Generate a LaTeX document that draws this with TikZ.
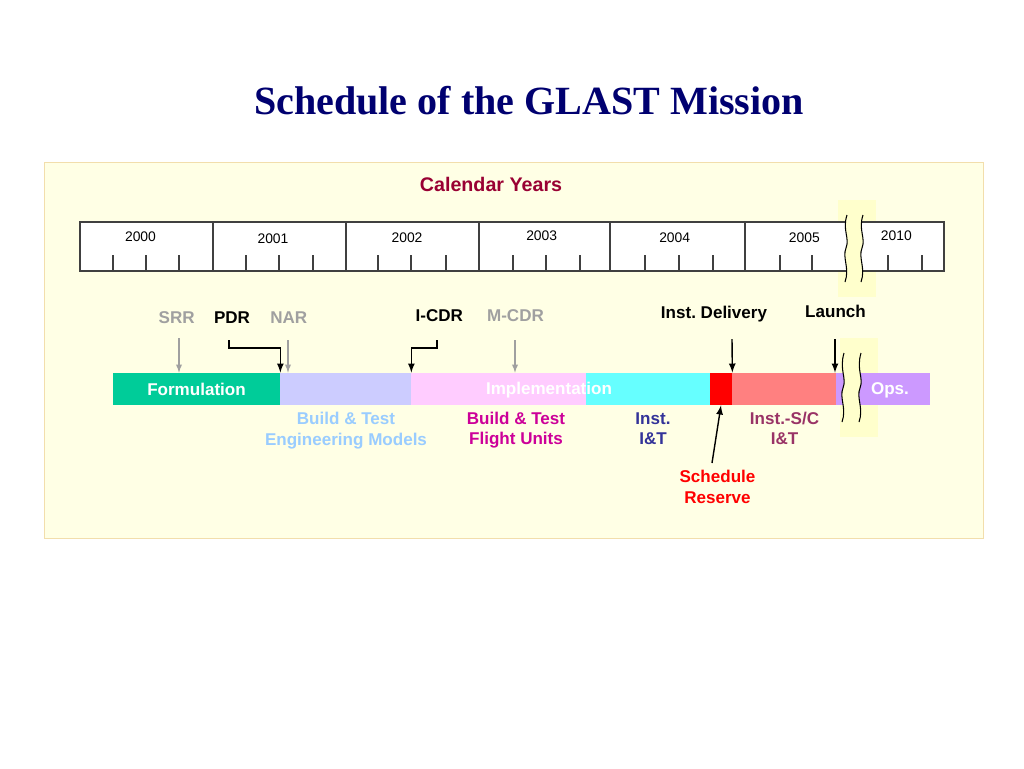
\documentclass[tikz,border=0pt]{standalone}
\usepackage{fontspec}
\setmainfont{Liberation Sans}
\newfontfamily\titlefont{Liberation Serif}
\usetikzlibrary{arrows}

\definecolor{panel}{RGB}{255,255,229}
\definecolor{panelline}{RGB}{242,222,172}
\definecolor{glow}{RGB}{255,255,204}
\definecolor{boxline}{RGB}{64,64,64}
\definecolor{titleblue}{RGB}{0,0,112}
\definecolor{calred}{RGB}{153,0,51}
\definecolor{cform}{RGB}{0,204,153}
\definecolor{cbem}{RGB}{204,204,255}
\definecolor{cimpl}{RGB}{255,204,255}
\definecolor{cinst}{RGB}{102,255,255}
\definecolor{cresv}{RGB}{255,0,0}
\definecolor{cscit}{RGB}{255,128,128}
\definecolor{cops}{RGB}{204,153,255}
\definecolor{cgray}{RGB}{160,160,160}
\definecolor{cbemtxt}{RGB}{153,204,255}
\definecolor{cflight}{RGB}{204,0,153}
\definecolor{cinsttxt}{RGB}{51,51,153}
\definecolor{cscittxt}{RGB}{153,51,102}

\begin{document}
\begin{tikzpicture}[x=0.02cm,y=-0.02cm,
    lbl/.style={font=\fontsize{9.7}{11.6}\selectfont\bfseries,inner sep=0pt,align=center},
    yr/.style={font=\fontsize{7.9}{9.5}\selectfont,inner sep=0pt},
    seg/.style={lbl,text=white,minimum height=32*0.02cm},
    garr/.style={-latex,draw=cgray,line width=0.6pt},
    barr/.style={-latex,line width=0.8pt}]
        \useasboundingbox[fill=white] (0,0) rectangle (1024,768);

        \node[font=\titlefont\fontsize{22.8}{26}\selectfont\bfseries,text=titleblue,inner sep=0pt] (title) at (529,100.5) {Schedule of the GLAST Mission};

        \draw[draw=panelline,fill=panel] (44,162) rectangle (983,538);
        \node[font=\fontsize{11.2}{13}\selectfont\bfseries,text=calred,inner sep=0pt] (cal) at (491,184.5) {Calendar Years};

        % year scale
        \fill[glow] (838,200) rectangle (876,297);
        \node[draw=boxline,fill=white,line width=0.6pt,inner sep=0pt,minimum width=864*0.02cm,minimum height=49*0.02cm] (years) at (512,246.5) {};
        \foreach \x in {213,346,479,610,745}
            \draw[boxline,line width=0.6pt] (\x,222) -- (\x,271);
        \foreach \x in {113,146,179,246,279,313,378,411,446,513,546,580,645,679,713,780,812,888,922}
            \draw[boxline,line width=0.6pt] (\x,255) -- (\x,271);
        \foreach \yr/\x/\y in {2000/140.5/236.7,2001/273/238.5,2002/407/237.7,2003/541.7/236,2004/674.7/238,2005/804.3/238,2010/896.3/235.5}
            \node[yr] (y\yr) at (\x,\y) {\yr};
        \fill[glow] (847,215) .. controls (842,230) and (850,238) .. (846,248) .. controls (842,258) and (850,268) .. (845,282)
            -- (861,282) .. controls (866,268) and (858,258) .. (862,248) .. controls (866,238) and (858,230) .. (863,215) -- cycle;
        \foreach \dx in {0,16}
            \draw[shift={(\dx,0)},line width=0.6pt] (847,215) .. controls (842,230) and (850,238) .. (846,248) .. controls (842,258) and (850,268) .. (845,282);

        % phases
        \fill[glow] (840,338) rectangle (878,437);
        \node[seg,fill=cform,minimum width=167*0.02cm] (form) at (196.5,389) {Formulation};
        \node[seg,fill=cbem,minimum width=131*0.02cm] (bem) at (345.5,389) {};
        \node[seg,fill=cimpl,minimum width=175*0.02cm] (impl) at (498.5,389) {};
        \node[seg,fill=cinst,minimum width=124*0.02cm] (inst) at (648,389) {};
        \node[seg,fill=cresv,minimum width=22*0.02cm] (resv) at (721,389) {};
        \node[seg,fill=cscit,minimum width=104*0.02cm] (scit) at (784,389) {};
        \node[seg,fill=cops,minimum width=94*0.02cm] (ops) at (883,389) {};
        \node[lbl,text=white] (impltxt) at (549,390) {Implementation};
        \node[lbl,text=white] (opstxt) at (890,390.5) {Ops.};
        \fill[glow] (844,353) .. controls (839,370) and (847,378) .. (843,388) .. controls (839,398) and (847,408) .. (842,422)
            -- (859,422) .. controls (864,408) and (856,398) .. (860,388) .. controls (864,378) and (856,370) .. (861,353) -- cycle;
        \foreach \dx in {0,17}
            \draw[shift={(\dx,0)},line width=0.6pt] (844,353) .. controls (839,370) and (847,378) .. (843,388) .. controls (839,398) and (847,408) .. (842,422);

        % milestones
        \node[lbl,text=cgray] (srr) at (176.7,317.5) {SRR};
        \node[lbl] (pdr) at (232,317.5) {PDR};
        \node[lbl,text=cgray] (nar) at (288.8,317.5) {NAR};
        \node[lbl] (icdr) at (439.3,316) {I-CDR};
        \node[lbl,text=cgray] (mcdr) at (515.5,316) {M-CDR};
        \node[lbl] (deliv) at (714,314.5) {Inst.\ Delivery};
        \node[lbl] (launch) at (835.5,311.5) {Launch};

        \coordinate (srrtail) at (179,338);
        \coordinate (pdrtail) at (229,340);
        \coordinate (nartail) at (288,340);
        \coordinate (icdrtail) at (437,340);
        \coordinate (mcdrtail) at (515,340);
        \coordinate (delivtail) at (732,339);
        \coordinate (launchtail) at (835,339);
        \coordinate (resvtail) at (712,463);

        \draw[garr] (srrtail) -- (srrtail |- form.north);
        \draw[garr] (nartail) -- (nartail |- bem.north);
        \draw[garr] (mcdrtail) -- (mcdrtail |- impl.north);
        \draw[barr] (pdrtail) -- ++(0,8) -| (form.north east);
        \draw[barr] (icdrtail) -- ++(0,8) -| (bem.north east);
        \draw[barr] (delivtail) -- (resv.north east);
        \draw[barr] (launchtail) -- (launchtail |- scit.north);

        % phase labels
        \node[lbl,text=cbemtxt] (bemtxt) at (346,430.5) {Build \& Test\\Engineering Models};
        \node[lbl,text=cflight] (flighttxt) at (516,430.3) {Build \& Test\\Flight Units};
        \node[lbl,text=cinsttxt] (insttxt) at (653,428.5) {Inst.\\I\&T};
        \node[lbl,text=cscittxt] (scittxt) at (784.5,428.5) {Inst.-S/C\\I\&T};
        \node[lbl,text=cresv] (reserve) at (717.5,486.8) {Schedule\\Reserve};
        \draw[barr] (resvtail) -- (resv.south);
\end{tikzpicture}
\end{document}
